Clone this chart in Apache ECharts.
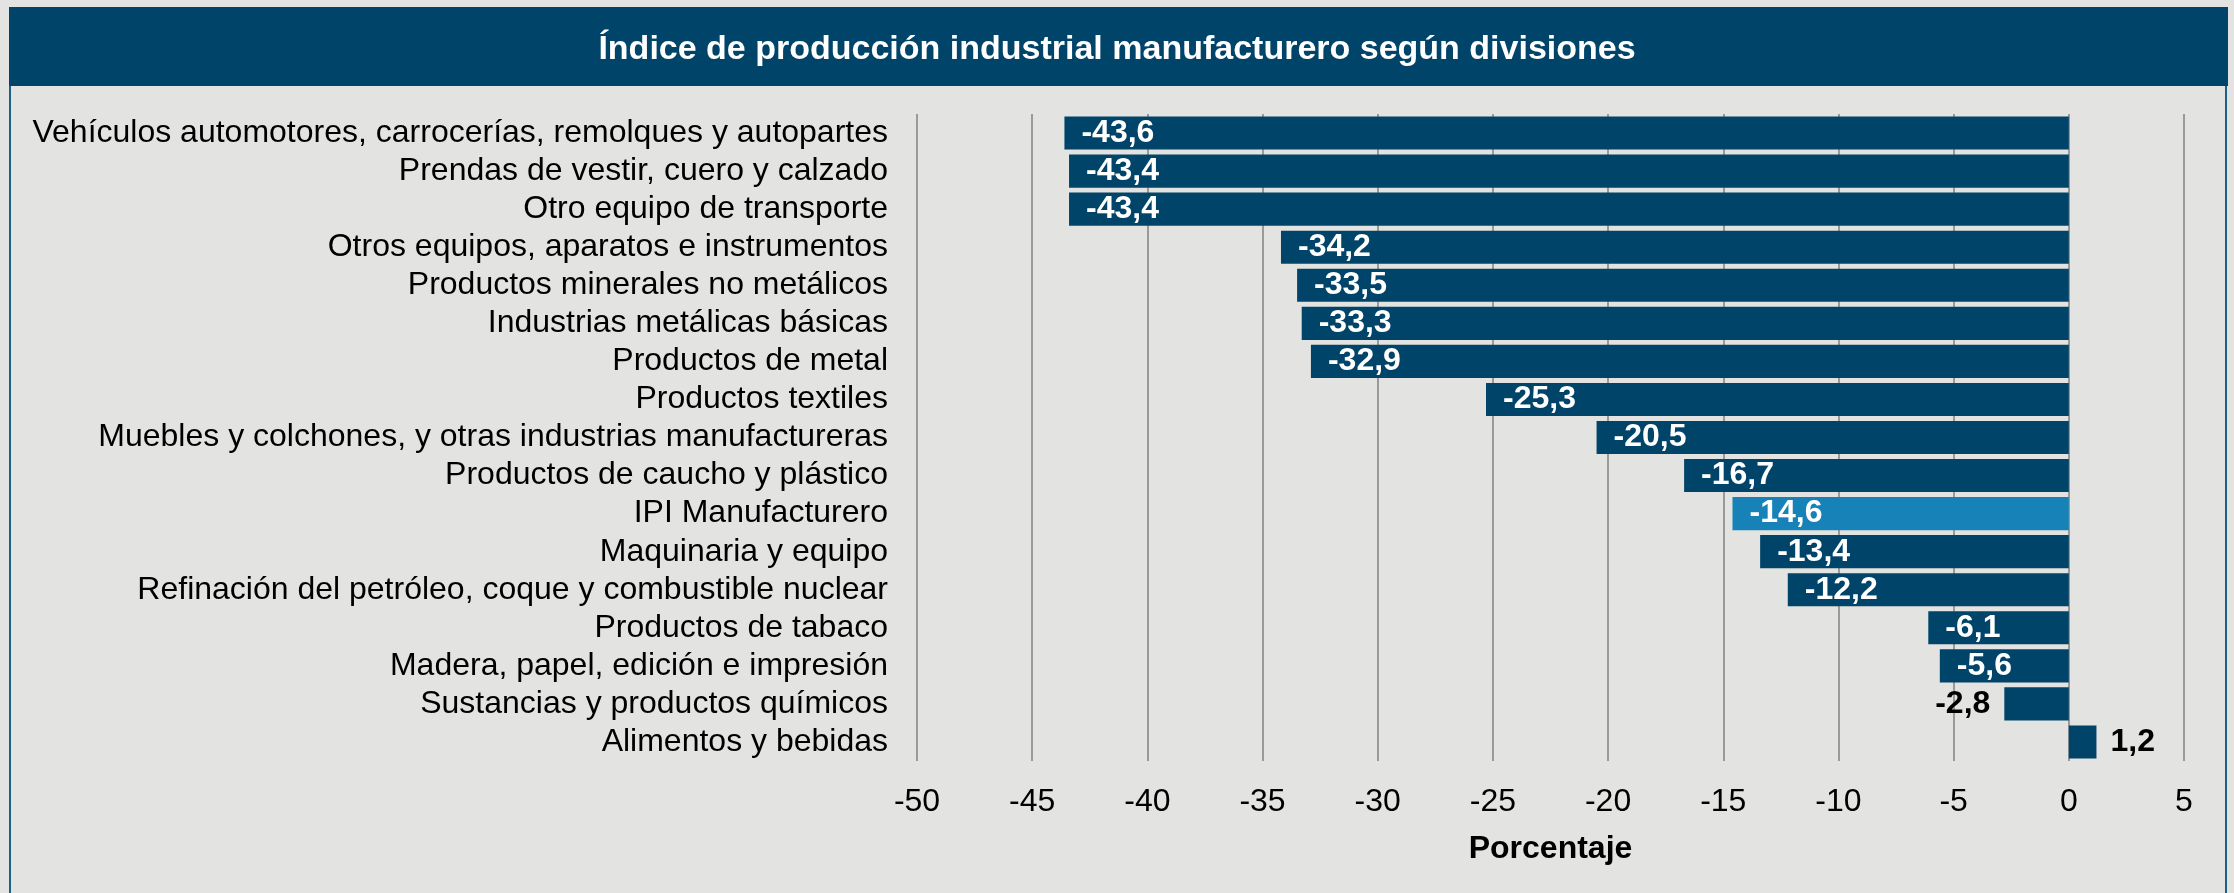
<!DOCTYPE html>
<html>
<head>
<meta charset="utf-8">
<script src="https://cdn.jsdelivr.net/npm/echarts@6/dist/echarts.min.js"></script>
<style>
html,body{margin:0;padding:0;background:#e3e3e1;}
#chart{width:2234px;height:893px;}
</style>
</head>
<body>
<div id="chart"></div>
<script>
const titleText = 'Índice de producción industrial manufacturero según divisiones';
const categories = [
  'Vehículos automotores, carrocerías, remolques y autopartes',
  'Prendas de vestir, cuero y calzado',
  'Otro equipo de transporte',
  'Otros equipos, aparatos e instrumentos',
  'Productos minerales no metálicos',
  'Industrias metálicas básicas',
  'Productos de metal',
  'Productos textiles',
  'Muebles y colchones, y otras industrias manufactureras',
  'Productos de caucho y plástico',
  'IPI Manufacturero',
  'Maquinaria y equipo',
  'Refinación del petróleo, coque y combustible nuclear',
  'Productos de tabaco',
  'Madera, papel, edición e impresión',
  'Sustancias y productos químicos',
  'Alimentos y bebidas'
];
const values = [-43.6, -43.4, -43.4, -34.2, -33.5, -33.3, -32.9, -25.3, -20.5, -16.7, -14.6, -13.4, -12.2, -6.1, -5.6, -2.8, 1.2];
const highlight = 'IPI Manufacturero';
const xMin = -50, xMax = 5, xStep = 5;
const axisName = 'Porcentaje';

const FONT = '"Liberation Sans", Arial, Helvetica, sans-serif';
const DARK = '#00446a';
const LIGHT = '#1782b8';

const fmt = v => String(v).replace('.', ',');

const data = values.map((v, i) => {
  const item = { value: v, itemStyle: { color: categories[i] === highlight ? LIGHT : DARK } };
  if (v > 0) {
    item.label = { position: 'right', color: '#000', distance: 14 };
  } else if (v > -4) {
    item.label = { position: 'left', color: '#000', distance: 14 };
  }
  return item;
});

const chart = echarts.init(document.getElementById('chart'), null, { renderer: 'canvas' });
chart.setOption({
  backgroundColor: '#e3e3e1',
  animation: false,
  graphic: [
    { type: 'rect', shape: { x: 10, y: 8, width: 2216, height: 900 }, style: { fill: 'none', stroke: '#1e5f86', lineWidth: 2 }, z: 0 },
    { type: 'rect', shape: { x: 9, y: 7, width: 2219, height: 79 }, style: { fill: DARK }, z: 1 }
  ],
  title: {
    text: titleText,
    left: 'center',
    top: 28,
    textStyle: { color: '#fff', fontFamily: FONT, fontSize: 34, fontWeight: 'bold' }
  },
  grid: { left: 917, right: 50, top: 114, bottom: 132, containLabel: false },
  xAxis: {
    type: 'value',
    min: xMin, max: xMax, interval: xStep,
    axisLine: { show: false },
    axisTick: { show: false },
    splitLine: { show: true, lineStyle: { color: '#9a9a9a', width: 2 } },
    axisLabel: { color: '#000', fontFamily: FONT, fontSize: 32, margin: 25 },
    name: axisName,
    nameLocation: 'middle',
    nameGap: 72,
    nameTextStyle: { color: '#000', fontFamily: FONT, fontSize: 32, fontWeight: 'bold' }
  },
  yAxis: {
    type: 'category',
    data: categories,
    inverse: true,
    axisLine: { show: false },
    axisTick: { show: false },
    splitLine: { show: false },
    axisLabel: { color: '#000', fontFamily: FONT, fontSize: 32, margin: 29, interval: 0 }
  },
  series: [{
    type: 'bar',
    data: data,
    barCategoryGap: '13%',
    label: {
      show: true,
      position: 'insideLeft',
      distance: 17,
      color: '#fff',
      fontFamily: FONT,
      fontSize: 32,
      fontWeight: 'bold',
      formatter: p => fmt(p.value)
    }
  }]
});
</script>
</body>
</html>
